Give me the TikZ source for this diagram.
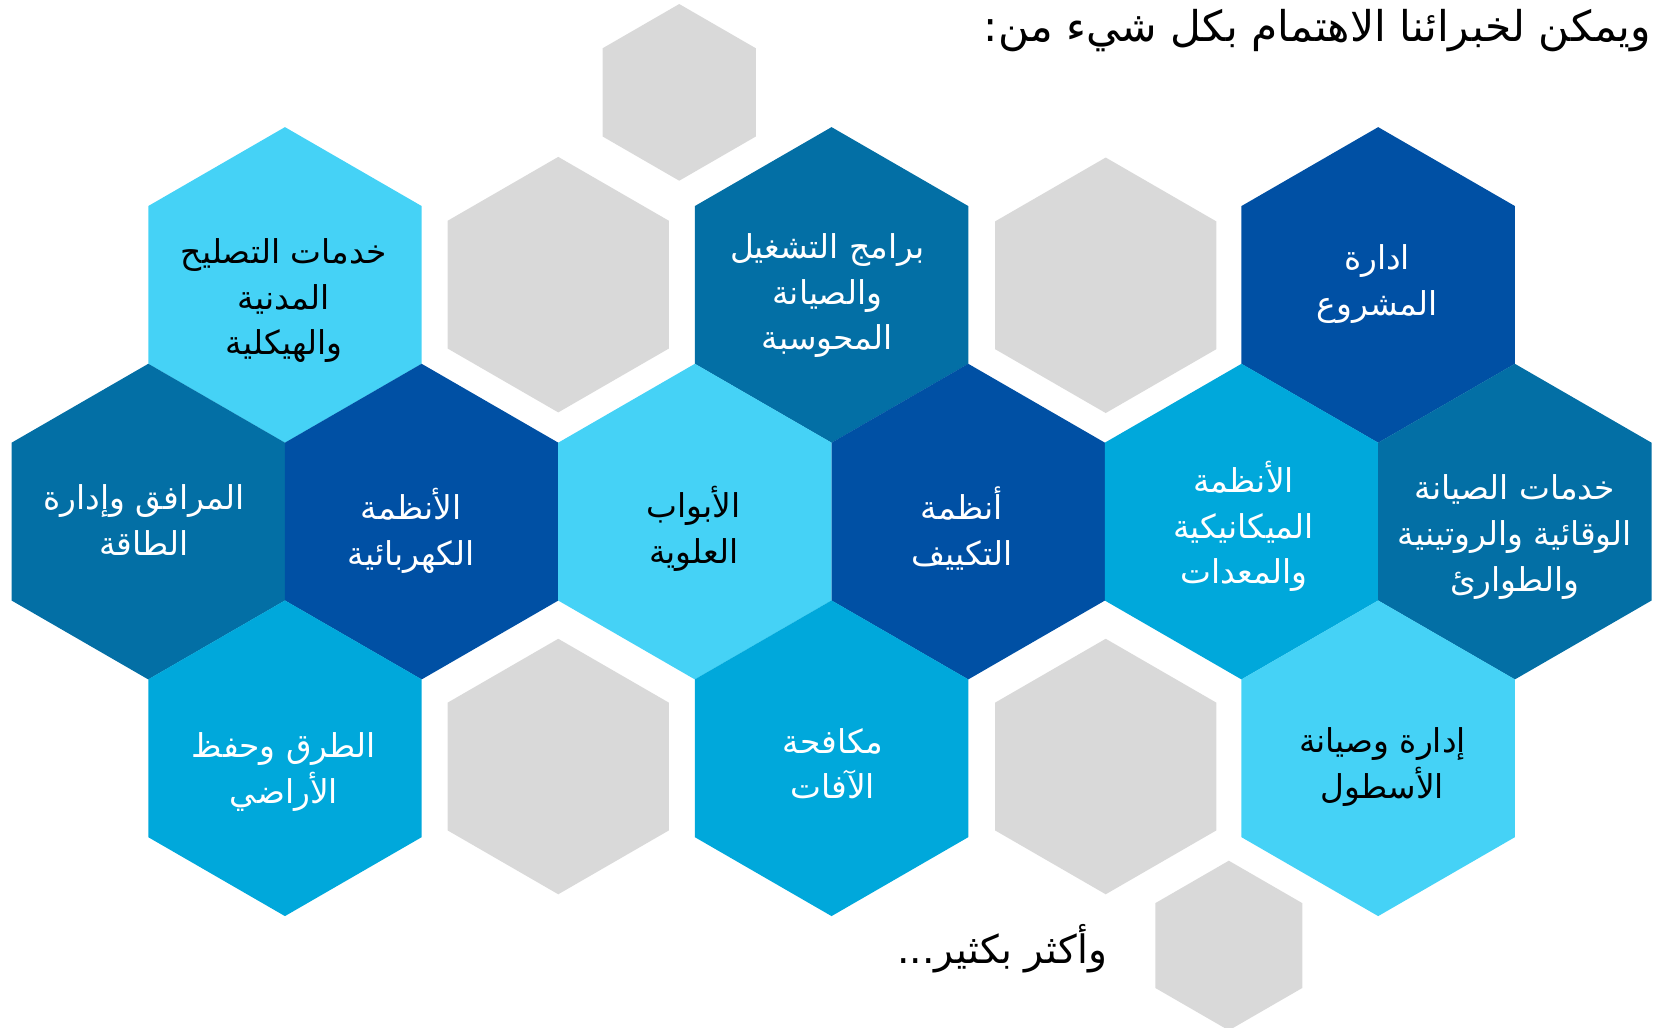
\documentclass[tikz,border=0pt]{standalone}
\usepackage{fontspec}
\newfontfamily\arabicfont[Script=Arabic]{DejaVu Sans}
\TeXXeTstate=1
\definecolor{lcyan}{HTML}{45D2F6}
\definecolor{mcyan}{HTML}{00A8DB}
\definecolor{hteal}{HTML}{036FA5}
\definecolor{dblue}{HTML}{0050A4}
\definecolor{hgray}{HTML}{D9D9D9}
\newcommand{\hexcell}[4]{\fill[#4,shift={(#1,#2)}] (90:#3) -- (150:#3) -- (210:#3) -- (270:#3) -- (330:#3) -- (30:#3) -- cycle;}
\begin{document}
\begin{tikzpicture}[x=1pt,y=-1pt,
  hextext/.style={align=center,font=\arabicfont\fontsize{31}{43}\selectfont,inner sep=0pt},
  wtext/.style={hextext,text=white},
  btext/.style={hextext,text=black}]
\useasboundingbox (0,0) rectangle (1568,970);
% gray hexagons
\hexcell{641.2}{87.2}{83.4}{hgray}
\hexcell{527}{268.7}{120.6}{hgray}
\hexcell{1043.8}{269.3}{120.6}{hgray}
\hexcell{527}{723.6}{120.6}{hgray}
\hexcell{1043.8}{723.6}{120.6}{hgray}
\hexcell{1160}{892.6}{80.1}{hgray}
% coloured hexagons
\hexcell{269}{269}{149}{lcyan}
\hexcell{785}{269}{149}{hteal}
\hexcell{1301}{269}{149}{dblue}
\hexcell{140}{492.4}{149}{hteal}
\hexcell{398}{492.4}{149}{dblue}
\hexcell{656}{492.4}{149}{lcyan}
\hexcell{914}{492.4}{149}{dblue}
\hexcell{1172}{492.4}{149}{mcyan}
\hexcell{1430}{492.4}{149}{hteal}
\hexcell{269}{715.8}{149}{mcyan}
\hexcell{785}{715.8}{149}{mcyan}
\hexcell{1301}{715.8}{149}{lcyan}
% texts
\node[btext] (civil) at (268,284) {\beginR خدمات التصليح\endR\\\beginR المدنية\endR\\\beginR والهيكلية\endR};
\node[wtext] (software) at (781,279) {\beginR برامج التشغيل\endR\\\beginR والصيانة\endR\\\beginR المحوسبة\endR};
\node[wtext] (project) at (1300,268) {\beginR ادارة\endR\\\beginR المشروع\endR};
\node[wtext] (utilities) at (136,491) {\beginR المرافق وإدارة\endR\\\beginR الطاقة\endR};
\node[wtext] (electric) at (388,501) {\beginR الأنظمة\endR\\\beginR الكهربائية\endR};
\node[btext] (doors) at (655,499) {\beginR الأبواب\endR\\\beginR العلوية\endR};
\node[wtext] (hvac) at (908,499) {\beginR أنظمة\endR\\\beginR التكييف\endR};
\node[wtext] (mech) at (1174,497) {\beginR الأنظمة\endR\\\beginR الميكانيكية\endR\\\beginR والمعدات\endR};
\node[wtext] (maint) at (1430,507) {\beginR خدمات الصيانة\endR\\\beginR الوقائية والروتينية\endR\\\beginR والطوارئ\endR};
\node[wtext] (roads) at (268,729) {\beginR الطرق وحفظ\endR\\\beginR الأراضي\endR};
\node[wtext] (pest) at (786,721) {\beginR مكافحة\endR\\\beginR الآفات\endR};
\node[btext] (fleet) at (1305,724) {\beginR إدارة وصيانة\endR\\\beginR الأسطول\endR};
\node[anchor=east,inner sep=0pt,font=\arabicfont\fontsize{40}{48}\selectfont] (title) at (1559,29) {\beginR ويمكن لخبرائنا الاهتمام بكل شيء من:\endR};
\node[inner sep=0pt,font=\arabicfont\fontsize{37}{44}\selectfont] (more) at (946,896) {\beginR وأكثر بكثير...\endR};
\end{tikzpicture}
\end{document}
